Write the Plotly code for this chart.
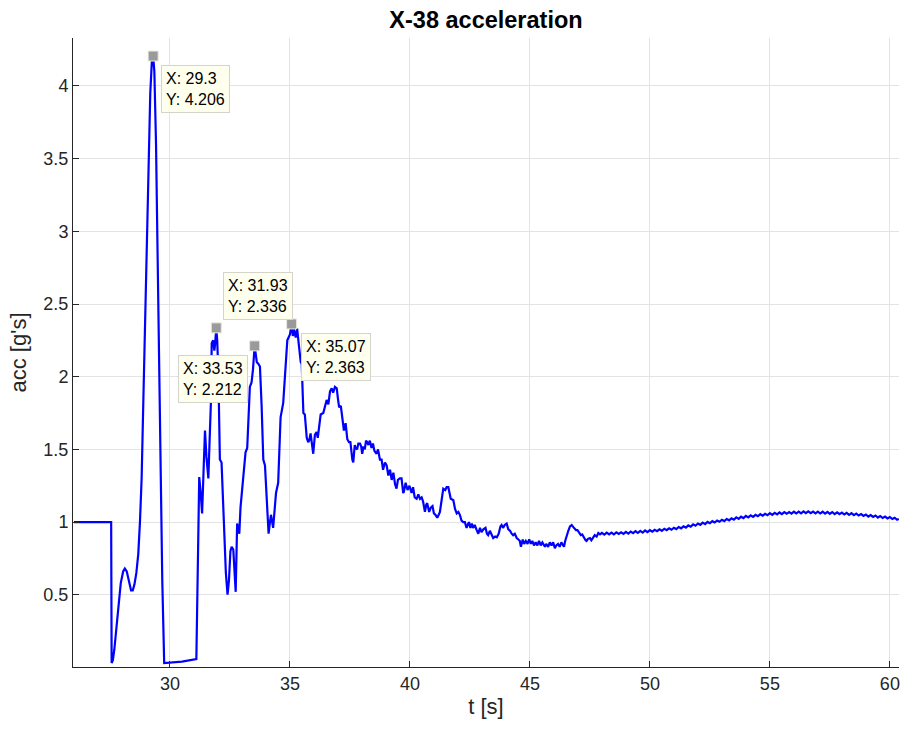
import plotly.graph_objects as go

# time [s] and acceleration [g's]
t_early = [26.0, 27.55, 27.57, 27.62, 27.68, 27.75, 27.85, 27.95, 28.05, 28.12, 28.2, 28.3, 28.38, 28.45,
           28.52, 28.6, 28.66, 28.68, 28.75, 28.82, 28.9, 29.0, 29.1, 29.18, 29.25, 29.3, 29.35, 29.37,
           29.42, 29.5, 29.6, 29.68, 29.76, 30.5, 31.1, 31.15, 31.22, 31.28, 31.32, 31.34, 31.4, 31.46,
           31.52, 31.6, 31.65, 31.71, 31.74, 31.8, 31.85, 31.88, 31.93, 31.97, 32.02, 32.08, 32.15, 32.25,
           32.33, 32.4, 32.46, 32.52, 32.57, 32.64, 32.69, 32.74, 32.8, 32.86, 32.89, 32.94, 32.99, 33.07,
           33.15, 33.22, 33.28, 33.33, 33.4, 33.46, 33.53, 33.58, 33.62, 33.68, 33.75, 33.82, 33.89, 33.96,
           34.03, 34.11, 34.16, 34.21, 34.26, 34.3, 34.36, 34.42, 34.51, 34.56, 34.61, 34.72, 34.82, 34.89,
           35.0, 35.07, 35.12, 35.16, 35.24, 35.3, 35.37, 35.45, 35.49, 35.56, 35.62, 35.7, 35.76, 35.8,
           35.86, 35.92, 35.97, 36.04, 36.11, 36.16, 36.22, 36.28, 36.39, 36.46, 36.53, 36.6, 36.67, 36.74,
           36.8, 36.875, 36.95, 37.0, 37.05, 37.12, 37.2, 37.25, 37.32, 37.39, 37.46, 37.52, 37.6, 37.64,
           37.7, 37.74, 37.8, 37.85, 37.92, 37.97, 38.01, 38.07, 38.12, 38.17, 38.22, 38.27, 38.33, 38.4,
           38.46, 38.52, 38.61, 38.67, 38.75, 38.82, 38.88, 38.96, 39.03, 39.1, 39.17, 39.24, 39.31, 39.38,
           39.44, 39.5, 39.58, 39.65, 39.72, 39.75, 39.82, 39.9, 39.98, 40.07, 40.13, 40.2, 40.28, 40.35,
           40.42, 40.49, 40.55, 40.625, 40.68, 40.72, 40.8, 40.87, 40.94, 41.0, 41.06, 41.14, 41.2, 41.25,
           41.32, 41.39, 41.47, 41.53, 41.6, 41.66, 41.7, 41.76, 41.81, 41.88, 41.95, 42.02, 42.08, 42.15,
           42.22, 42.29, 42.36, 42.42, 42.46, 42.52, 42.58, 42.63, 42.7, 42.77, 42.85, 42.92, 42.98, 43.06,
           43.15, 43.21, 43.26, 43.33, 43.4, 43.47, 43.55, 43.62, 43.7, 43.77, 43.82, 43.88, 43.95, 44.03,
           44.1, 44.17, 44.24, 44.3, 44.37, 44.45, 44.52, 44.58, 44.625, 44.7, 44.76, 44.83, 44.9, 44.97,
           45.04, 45.1, 45.17, 45.24, 45.31, 45.38, 45.45, 45.52, 45.625, 45.68, 45.76, 45.83, 45.9, 45.97,
           46.04, 46.1, 46.17, 46.24, 46.31, 46.37, 46.42, 46.47, 46.53, 46.6, 46.67, 46.74, 46.81, 46.87,
           46.92, 46.98, 47.05, 47.12, 47.18, 47.25, 47.32, 47.36, 47.42, 47.5, 47.56, 47.62, 47.7, 47.78,
           47.85, 47.92]
acc_early = [1.0, 1.0, 0.03, 0.05, 0.12, 0.25, 0.45, 0.58, 0.66, 0.68, 0.66, 0.59, 0.53, 0.53,
             0.57, 0.65, 0.75, 0.78, 1.0, 1.3, 1.9, 2.6, 3.3, 3.95, 4.18, 4.206, 4.1, 3.95,
             3.6, 2.67, 1.3, 0.6, 0.03, 0.04, 0.057, 0.6, 1.31, 1.2, 1.1, 1.06, 1.35, 1.63,
             1.45, 1.30, 1.55, 1.84, 2.23, 2.25, 2.18, 2.22, 2.336, 2.25, 2.0, 1.43, 1.41, 0.97,
             0.65, 0.50, 0.6, 0.8, 0.83, 0.81, 0.65, 0.52, 0.99, 0.93, 0.92, 1.1, 1.2, 1.35,
             1.48, 1.51, 1.75, 1.93, 1.96, 2.05, 2.212, 2.15, 2.1, 2.09, 2.07, 1.8, 1.43, 1.39,
             1.15, 0.92, 0.99, 1.05, 1.0, 0.96, 1.08, 1.2, 1.27, 1.5, 1.72, 1.82, 2.05, 2.25,
             2.29, 2.363, 2.28, 2.33, 2.27, 2.33, 2.22, 2.1, 2.09, 1.75, 1.74, 1.58, 1.55, 1.56,
             1.61, 1.55, 1.47, 1.60, 1.62, 1.58, 1.68, 1.74, 1.75, 1.80, 1.84, 1.81, 1.90, 1.92,
             1.89, 1.93, 1.92, 1.85, 1.79, 1.80, 1.67, 1.63, 1.68, 1.57, 1.55, 1.55, 1.43, 1.41,
             1.53, 1.51, 1.50, 1.54, 1.54, 1.52, 1.47, 1.52, 1.50, 1.56, 1.55, 1.53, 1.56, 1.51,
             1.54, 1.49, 1.47, 1.50, 1.43, 1.43, 1.36, 1.41, 1.39, 1.32, 1.36, 1.29, 1.34, 1.26,
             1.23, 1.29, 1.30, 1.30, 1.20, 1.21, 1.27, 1.22, 1.25, 1.20, 1.24, 1.17, 1.16, 1.19,
             1.16, 1.17, 1.14, 1.07, 1.12, 1.13, 1.07, 1.10, 1.11, 1.06, 1.05, 1.03, 1.05, 1.07,
             1.15, 1.23, 1.22, 1.24, 1.24, 1.20, 1.16, 1.155, 1.15, 1.09, 1.06, 1.07, 1.05, 1.01,
             1.0, 1.0, 0.96, 0.985, 1.0, 0.96, 0.99, 0.96, 0.98, 0.95, 0.92, 0.96, 0.93, 0.95,
             0.96, 0.92, 0.91, 0.94, 0.92, 0.89, 0.90, 0.895, 0.92, 0.97, 0.98, 0.96, 0.98, 0.99,
             0.95, 0.94, 0.92, 0.91, 0.92, 0.89, 0.88, 0.87, 0.83, 0.88, 0.85, 0.87, 0.85, 0.88,
             0.85, 0.87, 0.84, 0.86, 0.84, 0.87, 0.84, 0.86, 0.83, 0.85, 0.83, 0.86, 0.84, 0.86,
             0.82, 0.84, 0.85, 0.83, 0.86, 0.84, 0.83, 0.87, 0.91, 0.94, 0.97, 0.98, 0.965, 0.95,
             0.945, 0.945, 0.93, 0.91, 0.915, 0.89, 0.875, 0.87, 0.885, 0.89, 0.875, 0.89, 0.91, 0.90,
             0.925, 0.915]

t_late = [48.0, 48.1, 48.2, 48.3, 48.4, 48.5, 48.6, 48.7, 48.8, 48.9,
          49.0, 49.1, 49.2, 49.3, 49.4, 49.5, 49.6, 49.7, 49.8, 49.9,
          50.0, 50.1, 50.2, 50.3, 50.4, 50.5, 50.6, 50.7, 50.8, 50.9,
          51.0, 51.1, 51.2, 51.3, 51.4, 51.5, 51.6, 51.7, 51.8, 51.9,
          52.0, 52.1, 52.2, 52.3, 52.4, 52.5, 52.6, 52.7, 52.8, 52.9,
          53.0, 53.1, 53.2, 53.3, 53.4, 53.5, 53.6, 53.7, 53.8, 53.9,
          54.0, 54.1, 54.2, 54.3, 54.4, 54.5, 54.6, 54.7, 54.8, 54.9,
          55.0, 55.1, 55.2, 55.3, 55.4, 55.5, 55.6, 55.7, 55.8, 55.9,
          56.0, 56.1, 56.2, 56.3, 56.4, 56.5, 56.6, 56.7, 56.8, 56.9,
          57.0, 57.1, 57.2, 57.3, 57.4, 57.5, 57.6, 57.7, 57.8, 57.9,
          58.0, 58.1, 58.2, 58.3, 58.4, 58.5, 58.6, 58.7, 58.8, 58.9,
          59.0, 59.1, 59.2, 59.3, 59.4, 59.5, 59.6, 59.7, 59.8, 59.9,
          60.0, 60.1, 60.2, 60.3, 60.37]
acc_late = [0.926, 0.914, 0.927, 0.915, 0.928, 0.916, 0.929, 0.918, 0.930, 0.919,
            0.932, 0.921, 0.934, 0.924, 0.937, 0.926, 0.939, 0.928, 0.942, 0.931,
            0.944, 0.934, 0.947, 0.937, 0.950, 0.940, 0.954, 0.944, 0.957, 0.947,
            0.961, 0.952, 0.966, 0.957, 0.971, 0.962, 0.977, 0.968, 0.984, 0.975,
            0.990, 0.981, 0.996, 0.986, 1.001, 0.992, 1.006, 0.997, 1.011, 1.002,
            1.016, 1.007, 1.021, 1.012, 1.026, 1.017, 1.032, 1.022, 1.037, 1.027,
            1.042, 1.032, 1.046, 1.036, 1.050, 1.040, 1.054, 1.044, 1.057, 1.047,
            1.061, 1.050, 1.063, 1.053, 1.066, 1.055, 1.068, 1.057, 1.069, 1.058,
            1.071, 1.059, 1.072, 1.060, 1.073, 1.061, 1.073, 1.061, 1.072, 1.060,
            1.072, 1.059, 1.071, 1.058, 1.070, 1.057, 1.068, 1.055, 1.067, 1.054,
            1.065, 1.052, 1.063, 1.050, 1.061, 1.048, 1.058, 1.045, 1.055, 1.042,
            1.052, 1.038, 1.048, 1.035, 1.045, 1.031, 1.041, 1.028, 1.038, 1.025,
            1.035, 1.021, 1.030, 1.016, 1.022]

t = t_early + t_late
acc = acc_early + acc_late

# data tips
tip_x = [29.3, 31.93, 33.53, 35.07]
tip_y = [4.206, 2.336, 2.212, 2.363]
tip_text = ["X: 29.3<br>Y: 4.206", "X: 31.93<br>Y: 2.336", "X: 33.53<br>Y: 2.212", "X: 35.07<br>Y: 2.363"]

x_ticks = [30, 35, 40, 45, 50, 55, 60]
y_ticks = [0.5, 1, 1.5, 2, 2.5, 3, 3.5, 4]
y_tick_text = ["0.5", "1", "1.5", "2", "2.5", "3", "3.5", "4"]

FONT = "Liberation Sans, Arial, Helvetica, sans-serif"
AX = "#262626"

fig = go.Figure()
fig.add_trace(go.Scatter(x=t, y=acc, mode="lines",
                         line=dict(color="#0000FF", width=2.2), showlegend=False))
fig.add_trace(go.Scatter(x=tip_x, y=tip_y, mode="markers",
                         marker=dict(symbol="square", size=10, color="#9A9A9A",
                                     line=dict(color="#E8E8E0", width=1)),
                         showlegend=False))

# (xanchor, yanchor, xshift, yshift)
placement = [("left", "top", 8, -9), ("left", "bottom", 7, 8),
             ("right", "top", -7, -9), ("left", "top", 9, -9)]
for (xa, ya, xs, ys), x, y, s in zip(placement, tip_x, tip_y, tip_text):
    fig.add_annotation(x=x, y=y, xref="x", yref="y", text=s, showarrow=False,
                       xanchor=xa, yanchor=ya, xshift=xs, yshift=ys, align="left",
                       font=dict(family=FONT, size=16, color="#000000"),
                       bgcolor="#FFFFEE", bordercolor="#D4D4CC", borderwidth=1, borderpad=4)

fig.update_layout(
    width=904, height=731,
    margin=dict(l=73, r=5, t=38, b=64),
    paper_bgcolor="white", plot_bgcolor="white",
    font=dict(family=FONT, color=AX),
    title=dict(text="<b>X-38 acceleration</b>", x=(73 + 899) / 2 / 904, xanchor="center",
               y=1 - 20 / 731, yanchor="middle",
               font=dict(family=FONT, size=23.5, color="#000000")),
)
fig.update_xaxes(range=[25.96, 60.38], tickvals=x_ticks, ticks="inside", ticklen=6,
                 tickcolor=AX, tickwidth=1, showline=True, linecolor=AX, linewidth=1,
                 mirror=False, showgrid=True, gridcolor="#E3E3E3", gridwidth=1, zeroline=False,
                 tickfont=dict(family=FONT, size=18, color=AX),
                 title=dict(text="t [s]", font=dict(family=FONT, size=22, color=AX), standoff=6))
fig.update_yaxes(range=[0.003, 4.33], tickvals=y_ticks, ticktext=y_tick_text, ticks="inside",
                 ticklen=6, tickcolor=AX, tickwidth=1, showline=True, linecolor=AX, linewidth=1,
                 mirror=False, showgrid=True, gridcolor="#E3E3E3", gridwidth=1, zeroline=False,
                 tickfont=dict(family=FONT, size=18, color=AX),
                 title=dict(text="acc [g's]", font=dict(family=FONT, size=22, color=AX), standoff=10))

fig.write_html("out.html")
